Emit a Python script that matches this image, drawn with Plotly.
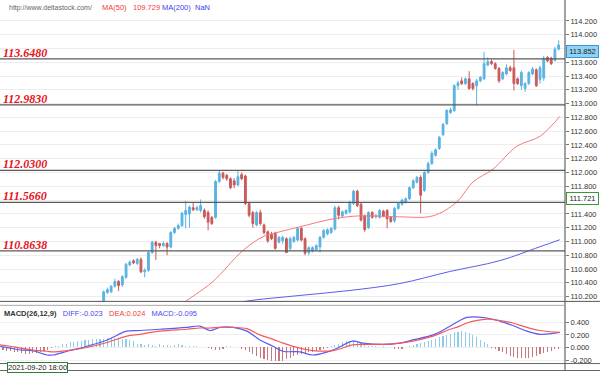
import plotly.graph_objects as go

W, H = 600, 373

# ---------------- price data (candles, left to right) ----------------
opens = [110.10, 110.13, 110.26, 110.27, 110.35, 110.42, 110.37, 110.48, 110.66, 110.72,
         110.68, 110.74, 110.56, 110.58, 110.84, 110.99, 110.97, 110.94, 110.97, 110.92,
         111.13, 111.19, 111.23, 111.39, 111.40, 111.49, 111.46, 111.45, 111.45, 111.42,
         111.35, 111.35, 111.87, 111.99, 111.96, 111.91, 111.88, 111.82, 111.97, 111.95,
         111.55, 111.42, 111.24, 111.42, 111.24, 111.14, 111.10, 111.12, 110.99, 111.01,
         111.04, 110.90, 111.00, 111.02, 111.19, 111.04, 110.84, 110.86, 110.88, 110.92,
         111.06, 111.11, 111.13, 111.18, 111.49, 111.37, 111.41, 111.43, 111.55, 111.73,
         111.54, 111.37, 111.20, 111.42, 111.36, 111.35, 111.44, 111.45, 111.35, 111.30,
         111.48, 111.54, 111.57, 111.62, 111.78, 111.86, 111.93, 111.74, 112.00, 112.13,
         112.25, 112.35, 112.55, 112.71, 112.87, 112.90, 113.26, 113.33, 113.29, 113.36,
         113.29, 113.26, 113.33, 113.36, 113.56, 113.61, 113.58, 113.51, 113.36, 113.43,
         113.52, 113.52, 113.36, 113.26, 113.22, 113.29, 113.43, 113.49, 113.35, 113.37,
         113.67, 113.66, 113.63, 113.79]
highs = [110.14, 110.29, 110.33, 110.37, 110.46, 110.44, 110.51, 110.69, 110.73, 110.74,
         110.76, 110.77, 110.61, 110.86, 111.01, 111.01, 110.98, 111.00, 110.99, 111.15,
         111.21, 111.26, 111.43, 111.59, 111.52, 111.57, 111.52, 111.61, 111.48, 111.45,
         111.37, 111.89, 112.03, 112.01, 111.98, 111.93, 111.92, 112.02, 112.00, 111.97,
         111.57, 111.44, 111.44, 111.46, 111.26, 111.16, 111.14, 111.14, 111.08, 111.08,
         111.06, 111.07, 111.08, 111.21, 111.21, 111.06, 110.93, 110.93, 110.96, 111.08,
         111.18, 111.19, 111.21, 111.52, 111.52, 111.45, 111.47, 111.59, 111.75, 111.75,
         111.56, 111.39, 111.44, 111.44, 111.40, 111.47, 111.46, 111.47, 111.37, 111.50,
         111.57, 111.62, 111.64, 111.80, 111.90, 111.95, 111.96, 112.02, 112.16, 112.31,
         112.35, 112.53, 112.72, 112.92, 112.94, 113.28, 113.33, 113.38, 113.38, 113.47,
         113.31, 113.36, 113.40, 113.75, 113.67, 113.64, 113.60, 113.53, 113.47, 113.57,
         113.55, 113.78, 113.38, 113.48, 113.31, 113.47, 113.53, 113.51, 113.55, 113.69,
         113.69, 113.68, 113.82, 113.92]
lows = [110.08, 110.11, 110.24, 110.25, 110.33, 110.28, 110.34, 110.46, 110.64, 110.67,
        110.66, 110.54, 110.48, 110.56, 110.82, 110.73, 110.90, 110.92, 110.80, 110.90,
        111.11, 111.17, 111.21, 111.19, 111.20, 111.44, 111.44, 111.42, 111.33, 111.16,
        111.24, 111.33, 111.85, 111.90, 111.88, 111.76, 111.77, 111.80, 111.89, 111.53,
        111.35, 111.20, 111.22, 111.23, 111.10, 110.98, 111.02, 110.88, 110.97, 110.96,
        110.83, 110.87, 110.98, 111.00, 111.00, 110.80, 110.80, 110.84, 110.86, 110.84,
        111.04, 111.09, 111.11, 111.16, 111.32, 111.35, 111.39, 111.41, 111.53, 111.50,
        111.29, 111.14, 111.18, 111.33, 111.33, 111.33, 111.35, 111.19, 111.27, 111.27,
        111.46, 111.52, 111.55, 111.60, 111.76, 111.84, 111.41, 111.72, 111.98, 112.11,
        112.23, 112.33, 112.53, 112.69, 112.85, 112.88, 113.20, 113.27, 113.27, 113.20,
        113.19, 112.97, 113.31, 113.34, 113.54, 113.56, 113.49, 113.30, 113.34, 113.41,
        113.46, 113.19, 113.27, 113.20, 113.17, 113.27, 113.41, 113.24, 113.29, 113.33,
        113.60, 113.56, 113.61, 113.77]
closes = [110.12, 110.27, 110.30, 110.35, 110.42, 110.36, 110.49, 110.67, 110.70, 110.69,
          110.74, 110.56, 110.58, 110.84, 110.99, 110.94, 110.94, 110.97, 110.92, 111.13,
          111.19, 111.23, 111.41, 111.45, 111.50, 111.46, 111.49, 111.52, 111.36, 111.28,
          111.26, 111.87, 111.99, 111.93, 111.91, 111.78, 111.82, 111.94, 111.91, 111.55,
          111.38, 111.26, 111.42, 111.26, 111.13, 111.01, 111.04, 110.90, 111.06, 111.06,
          110.84, 111.04, 111.06, 111.19, 111.02, 110.83, 110.91, 110.91, 110.94, 111.06,
          111.16, 111.17, 111.19, 111.49, 111.38, 111.43, 111.45, 111.57, 111.73, 111.52,
          111.31, 111.17, 111.42, 111.35, 111.37, 111.45, 111.37, 111.33, 111.29, 111.48,
          111.55, 111.60, 111.62, 111.78, 111.88, 111.93, 111.67, 112.00, 112.13, 112.28,
          112.33, 112.51, 112.70, 112.90, 112.91, 113.26, 113.30, 113.29, 113.36, 113.22,
          113.22, 113.33, 113.38, 113.58, 113.61, 113.58, 113.51, 113.33, 113.45, 113.52,
          113.48, 113.29, 113.29, 113.45, 113.29, 113.45, 113.50, 113.26, 113.52, 113.66,
          113.62, 113.58, 113.79, 113.85]

# moving averages (candle index, value)
ma50_idx = [20, 24.1, 30.3, 38.3, 43.7, 48.3, 53.6, 62.5, 69.7, 80.4, 89.3, 95.7, 100, 105.4, 111.8, 118, 123.3]
ma50_val = [110.02, 110.174, 110.419, 110.867, 111.069, 111.141, 111.213, 111.328, 111.372, 111.357,
            111.372, 111.574, 111.862, 112.05, 112.382, 112.526, 112.815]
ma200_idx = [35, 38.9, 53.6, 67, 80.4, 93.8, 107.2, 118, 123.3]
ma200_val = [110.08, 110.131, 110.217, 110.289, 110.390, 110.564, 110.722, 110.924, 111.025]

# support / resistance levels
levels = [113.6480, 112.9830, 112.0300, 111.5660, 110.8638]
level_labels = ["113.6480", "112.9830", "112.0300", "111.5660", "110.8638"]

price_ticks = [110.2, 110.4, 110.6, 110.8, 111.0, 111.2, 111.4, 111.6, 111.8, 112.0,
               112.2, 112.4, 112.6, 112.8, 113.0, 113.2, 113.4, 113.6, 113.8, 114.0, 114.2]
last_price = 113.852
cursor_price = 111.721

# ---------------- MACD panel ----------------
macd_idx = [-26.8, -24.1, -21.4, -18.0, -14.2, -12.6, -8.8, -3.5, 1.9, 7.2, 10.7, 16.1, 23.3, 26.8,
            29.5, 32.2, 35.7, 39.4, 42.9, 46.4, 49.1, 53.6, 57.1, 62.5, 67.8, 70.5, 75.9, 80.4,
            83.9, 89.3, 93.0, 96.5, 98.4, 103.8, 107.2, 110.7, 114.5, 118.0, 123.3]
diff_vals = [0.02, -0.01, -0.04, -0.05, -0.12, -0.12, -0.06, 0.02, 0.12, 0.26, 0.27, 0.29, 0.32, 0.34,
             0.27, 0.32, 0.32, 0.26, 0.12, 0.02, -0.06, -0.07, -0.12, -0.04, 0.10, 0.07, 0.05, 0.07,
             0.12, 0.20, 0.31, 0.43, 0.48, 0.47, 0.42, 0.35, 0.26, 0.21, 0.24]
dea_vals = [0.04, 0.02, -0.01, -0.04, -0.06, -0.07, -0.05, 0.00, 0.08, 0.18, 0.21, 0.26, 0.29, 0.31,
            0.31, 0.32, 0.32, 0.30, 0.20, 0.13, 0.07, -0.01, -0.05, -0.05, 0.04, 0.05, 0.05, 0.07,
            0.10, 0.18, 0.27, 0.34, 0.39, 0.45, 0.43, 0.39, 0.32, 0.27, 0.24]
hist_idx = list(range(-26, 124))
hist_vals = [-0.04, -0.05, -0.06, -0.07, -0.08, -0.09, -0.10, -0.10, -0.09, -0.09, -0.08, -0.06, -0.04,
             -0.01,
             0.02, 0.03, 0.05, 0.06, 0.08, 0.09, 0.10, 0.11, 0.12, 0.12, 0.13, 0.13, 0.14, 0.14, 0.15,
             0.15, 0.15, 0.14, 0.14, 0.13, 0.12, 0.10,
             0.06, 0.05, 0.04, 0.05, 0.04, 0.03, 0.05, 0.04, 0.04, 0.03, 0.04, 0.05, 0.04, 0.03, 0.02,
             0.03, 0.02,
             0.01, 0.0, -0.01,
             -0.03, -0.04, -0.04, -0.02,
             0.02, 0.03, 0.01,
             0.0, -0.02, -0.04,
             -0.07, -0.10, -0.13, -0.16, -0.18, -0.20, -0.21, -0.22, -0.22, -0.21, -0.19, -0.17, -0.14,
             -0.12, -0.10,
             -0.09, -0.08, -0.07, -0.05, -0.04, -0.02, -0.01,
             0.02, 0.04, 0.06, 0.08, 0.10, 0.11, 0.12, 0.11, 0.08, 0.05,
             0.03, 0.02, 0.02, 0.01, 0.02, 0.01, 0.0,
             -0.02, -0.03, -0.02,
             0.01, 0.03, 0.04, 0.05, 0.07, 0.08, 0.10, 0.12, 0.14, 0.16, 0.18, 0.20, 0.22, 0.24, 0.25,
             0.26, 0.25, 0.23, 0.20, 0.16, 0.12, 0.08, 0.05,
             -0.01, -0.03, -0.06, -0.08, -0.11, -0.13, -0.15, -0.16, -0.17, -0.17, -0.16, -0.15, -0.13,
             -0.11, -0.09, -0.07, -0.05, -0.03, -0.02]
macd_ticks = [-0.2, 0.0, 0.2, 0.4]

# ---------------- styling ----------------
UP = "#5ab3e2"
DN = "#c95a5a"
AXIS_X = 565 / W
MAIN_BOT = 1 - 303 / H
MACD_TOP = 1 - 307 / H
MACD_BOT = 1 - 365 / H

def px(x):
    return x / W

def py(y):
    return 1 - y / H

fig = go.Figure()

idx = list(range(len(opens)))
fig.add_trace(go.Candlestick(
    x=idx, open=opens, high=highs, low=lows, close=closes,
    increasing=dict(line=dict(color=UP, width=1), fillcolor=UP),
    decreasing=dict(line=dict(color=DN, width=1), fillcolor=DN),
    whiskerwidth=0, showlegend=False, hoverinfo="skip", xaxis="x", yaxis="y"))

fig.add_trace(go.Scatter(x=ma50_idx, y=ma50_val, mode="lines", showlegend=False, hoverinfo="skip",
                         line=dict(color="#f47a7a", width=1, shape="spline"), xaxis="x", yaxis="y"))
fig.add_trace(go.Scatter(x=ma200_idx, y=ma200_val, mode="lines", showlegend=False, hoverinfo="skip",
                         line=dict(color="#5b5bef", width=1, shape="spline"), xaxis="x", yaxis="y"))

hist_colors = ["#8fcbe8" if v >= 0 else "#c87878" for v in hist_vals]
fig.add_trace(go.Bar(x=hist_idx, y=hist_vals, width=0.3, marker=dict(color=hist_colors, line=dict(width=0)),
                     showlegend=False, hoverinfo="skip", xaxis="x2", yaxis="y2"))
fig.add_trace(go.Scatter(x=macd_idx, y=diff_vals, mode="lines", showlegend=False, hoverinfo="skip",
                         line=dict(color="#5a5af5", width=1.2, shape="spline"), xaxis="x2", yaxis="y2"))
fig.add_trace(go.Scatter(x=macd_idx, y=dea_vals, mode="lines", showlegend=False, hoverinfo="skip",
                         line=dict(color="#f25a5a", width=1.2, shape="spline"), xaxis="x2", yaxis="y2"))

TICKFONT = dict(family="Liberation Sans, Arial, sans-serif", size=7.5, color="#333333")

fig.update_layout(
    width=W, height=H, margin=dict(l=0, r=0, t=0, b=0),
    paper_bgcolor="white", plot_bgcolor="white", bargap=0,
    xaxis=dict(domain=[0, AXIS_X], range=[-26.8, 124.7], showticklabels=False, showgrid=False,
               zeroline=False, rangeslider=dict(visible=False), anchor="y", ticks=""),
    xaxis2=dict(domain=[0, AXIS_X], range=[-26.8, 124.7], showticklabels=False, showgrid=False,
                zeroline=False, anchor="y2", matches="x", ticks=""),
    yaxis=dict(domain=[MAIN_BOT, 1], range=[110.131, 114.503], side="right", anchor="x",
               tickvals=price_ticks, ticktext=["%.3f" % v for v in price_ticks],
               showgrid=True, gridcolor="#ededed", gridwidth=1, zeroline=False,
               ticks="outside", ticklen=3, tickcolor="#777", tickfont=TICKFONT, showline=False),
    yaxis2=dict(domain=[MACD_BOT, MACD_TOP], range=[-0.248, 0.671], side="right", anchor="x2",
                tickvals=macd_ticks, ticktext=["%.3f" % v for v in macd_ticks],
                showgrid=True, gridcolor="#f0f0f0", zeroline=False,
                ticks="outside", ticklen=3, tickcolor="#777", tickfont=TICKFONT, showline=False),
)

shapes = []
# level lines
for lv in levels:
    shapes.append(dict(type="line", xref="paper", yref="y", x0=0, x1=AXIS_X, y0=lv, y1=lv,
                       line=dict(color="#5a5a5a", width=1.3), layer="above"))
# panel borders
shapes.append(dict(type="line", xref="paper", yref="paper", x0=AXIS_X, x1=AXIS_X, y0=0, y1=1,
                   line=dict(color="#444", width=1)))
shapes.append(dict(type="line", xref="paper", yref="paper", x0=0, x1=1, y0=py(303), y1=py(303),
                   line=dict(color="#555", width=1)))
shapes.append(dict(type="line", xref="paper", yref="paper", x0=0, x1=AXIS_X, y0=py(307), y1=py(307),
                   line=dict(color="#aaa", width=1)))
shapes.append(dict(type="line", xref="paper", yref="paper", x0=0, x1=1, y0=py(365.5), y1=py(365.5),
                   line=dict(color="#666", width=1)))
shapes.append(dict(type="line", xref="paper", yref="paper", x0=0, x1=1, y0=py(372.5), y1=py(372.5),
                   line=dict(color="#666", width=1)))
fig.update_layout(shapes=shapes)

ann = []
LVLFONT = dict(family="Liberation Serif, Times New Roman, serif", size=12, color="#e8141e")
for lv, lab in zip(levels, level_labels):
    ann.append(dict(xref="paper", yref="y", x=px(2), y=lv, text="<b><i>%s</i></b>" % lab,
                    showarrow=False, xanchor="left", yanchor="bottom", yshift=-2,
                    font=LVLFONT, borderpad=0))

HF = "Liberation Sans, Arial, sans-serif"
ann.append(dict(xref="paper", yref="paper", x=px(7), y=py(8), text="http://www.deltastock.com/",
                showarrow=False, xanchor="left", yanchor="middle", font=dict(family=HF, size=7, color="#666")))
ann.append(dict(xref="paper", yref="paper", x=px(100), y=py(8), text="MA(50)",
                showarrow=False, xanchor="left", yanchor="middle", font=dict(family=HF, size=7.5, color="#f03c3c")))
ann.append(dict(xref="paper", yref="paper", x=px(131), y=py(8), text="109.729",
                showarrow=False, xanchor="left", yanchor="middle", font=dict(family=HF, size=7.5, color="#f03c3c")))
ann.append(dict(xref="paper", yref="paper", x=px(160), y=py(8), text="MA(200)",
                showarrow=False, xanchor="left", yanchor="middle", font=dict(family=HF, size=7.5, color="#4040f0")))
ann.append(dict(xref="paper", yref="paper", x=px(193), y=py(8), text="NaN",
                showarrow=False, xanchor="left", yanchor="middle", font=dict(family=HF, size=7.5, color="#4040f0")))

ann.append(dict(xref="paper", yref="paper", x=px(2), y=py(315),
                text=("<b>MACD(26,12,9)</b>   <span style='color:#4a4af0'>DIFF:-0.023</span>   "
                      "<span style='color:#f04040'>DEA:0.024</span>   "
                      "<span style='color:#4a4af0'>MACD:-0.095</span>"),
                showarrow=False, xanchor="left", yanchor="middle", font=dict(family=HF, size=7.5, color="#333")))

# price boxes on the axis
ann.append(dict(xref="paper", yref="y", x=AXIS_X + px(1), y=last_price, text="%.3f" % last_price,
                showarrow=False, xanchor="left", yanchor="top", font=dict(family=HF, size=7.5, color="#222"),
                bgcolor="#8fd3f7", bordercolor="#3d94d6", borderwidth=1, borderpad=1, width=29))
ann.append(dict(xref="paper", yref="y", x=AXIS_X + px(1), y=cursor_price, text="%.3f" % cursor_price,
                showarrow=False, xanchor="left", yanchor="top", font=dict(family=HF, size=7.5, color="#222"),
                bgcolor="white", bordercolor="#3c963c", borderwidth=1, borderpad=1, width=29))

# time box at bottom
ann.append(dict(xref="paper", yref="paper", x=px(7), y=py(369), text="2021-09-20 18:00",
                showarrow=False, xanchor="left", yanchor="middle", font=dict(family=HF, size=7.5, color="#222"),
                bgcolor="white", bordercolor="#2e7d32", borderwidth=1, borderpad=0))
fig.update_layout(annotations=ann)

fig.write_html("out.html", config={"displayModeBar": False, "staticPlot": True},
               post_script="document.body.style.margin='0px';document.body.style.overflow='hidden';")
